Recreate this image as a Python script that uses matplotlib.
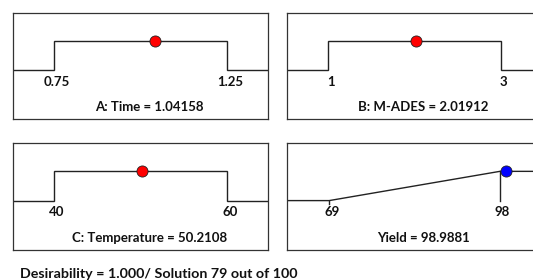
import matplotlib.pyplot as plt

plt.rcParams['font.family'] = ['Lato', 'DejaVu Sans']

# factor panels: name, low, high, chosen value
names = ['A: Time', 'B: M-ADES', 'C: Temperature']
lows = [0.75, 1, 40]
highs = [1.25, 3, 60]
values = [1.04158, 2.01912, 50.2108]
low_labels = ['0.75', '1', '40']
high_labels = ['1.25', '3', '60']

# response panel
resp_name = 'Yield'
resp_low = 69
resp_high = 98
resp_value = 98.9881

footer = 'Desirability = 1.000/ Solution 79 out of 100'

W, H = 533, 280
fig = plt.figure(figsize=(W / 100, H / 100), dpi=100)

def panel(left, top, bottom, right):
    ax = fig.add_axes([left / W, 1 - bottom / H, (right - left) / W, (bottom - top) / H])
    ax.set_xticks([])
    ax.set_yticks([])
    for s in ax.spines.values():
        s.set_color('#333333')
        s.set_linewidth(0.9)
    return ax

def label(ax, x, s):
    ax.annotate(s, (x, -0.4), xytext=(2, 0), textcoords='offset points',
                ha='center', va='center', **txt_kw)

boxes = [(13, 13, 119, 268), (287, 13, 119, 542), (13, 143, 250, 268)]
line_kw = dict(color='#222222', lw=1.0, solid_joinstyle='miter')
txt_kw = dict(fontsize=9.5, fontweight='bold', color='#111111')
ylo, yhi = -1.69, 1.97

for i in range(3):
    ax = panel(*boxes[i])
    lo, hi = lows[i], highs[i]
    pad = (hi - lo) * 0.237
    ax.set_xlim(lo - pad, hi + pad)
    ax.set_ylim(ylo, yhi)
    ax.plot([lo - pad, lo, lo, hi, hi, hi + pad], [0, 0, 1, 1, 0, 0], **line_kw)
    ax.plot([values[i]], [1], 'o', ms=8, mfc='red', mec='#222222', mew=0.6, zorder=5)
    label(ax, lo, low_labels[i])
    label(ax, hi, high_labels[i])
    ax.text(0.535, 0.11, f'{names[i]} = {values[i]}', transform=ax.transAxes,
            ha='center', va='center', **txt_kw)

# Yield panel
ax = panel(287, 143, 250, 542)
pad = (resp_high - resp_low) * 0.247
ax.set_xlim(resp_low - pad, resp_high + pad)
ax.set_ylim(ylo, yhi)
ax.plot([resp_low - pad, resp_low, resp_high, resp_high + pad], [0, 0, 1, 1], **line_kw)
ax.plot([resp_low, resp_low], [0, -0.1], **line_kw)
ax.plot([resp_high, resp_high], [1, 0], **line_kw)
ax.plot([resp_value], [1], 'o', ms=8, mfc='blue', mec='#222222', mew=0.6, zorder=5)
label(ax, resp_low, str(resp_low))
label(ax, resp_high, str(resp_high))
ax.text(0.535, 0.11, f'{resp_name} = {resp_value}', transform=ax.transAxes,
        ha='center', va='center', **txt_kw)

fig.text(20 / W, 1 - 274 / H, footer, ha='left', va='center',
         fontsize=10.3, fontweight='bold', color='#111111')

fig.savefig('out.png', dpi=100)
